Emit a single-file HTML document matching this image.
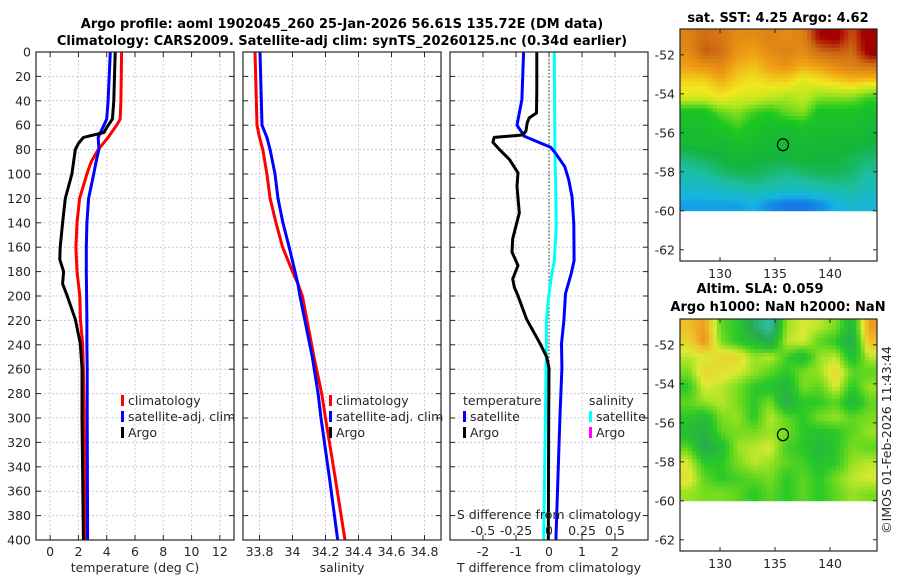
<!DOCTYPE html>
<html><head><meta charset="utf-8"><style>
html,body{margin:0;padding:0;background:#fff;}
svg text{font-family:"DejaVu Sans","Liberation Sans",sans-serif;fill:#262626;}
.t{font-weight:bold;font-size:13px;fill:#000;}
.tk{font-size:12.5px;}
</style></head><body>
<svg id="c" width="900" height="580" viewBox="0 0 900 580" xmlns="http://www.w3.org/2000/svg">
<text class="t" x="342" y="28" text-anchor="middle">Argo profile: aoml 1902045_260 25-Jan-2026 56.61S 135.72E (DM data)</text>
<text class="t" x="342" y="45" text-anchor="middle">Climatology: CARS2009. Satellite-adj clim: synTS_20260125.nc (0.34d earlier)</text>
<text class="t" x="778" y="22" text-anchor="middle">sat. SST: 4.25 Argo: 4.62</text>
<text class="t" x="760" y="293" text-anchor="middle">Altim. SLA: 0.059</text>
<text class="t" x="778" y="311" text-anchor="middle">Argo h1000: NaN h2000: NaN</text>
<text class="tk" transform="translate(891,440) rotate(-90)" text-anchor="middle">©IMOS 01-Feb-2026 11:43:44</text>
</svg>
<script>
// ---- profile data ----
const tDepth   = [0,40,55,60,70,80,90,100,120,140,160,180,200,220,240,260,300,400];
const tClim    = [5.05,5.0,4.95,4.7,4.1,3.4,2.9,2.6,2.08,1.9,1.82,1.9,2.1,2.15,2.3,2.35,2.4,2.5];
const tSat     = [4.25,4.1,4.0,3.8,3.4,3.45,3.25,3.08,2.72,2.6,2.56,2.56,2.58,2.6,2.6,2.62,2.62,2.65];
const argoDepth= [0,40,55,62,66,70,75,80,100,120,140,160,170,180,190,199,219,239,259,300,400];
const tArgo    = [4.6,4.5,4.4,4.0,3.8,2.35,2.0,1.78,1.54,1.07,0.88,0.71,0.68,0.95,0.88,1.18,1.78,2.13,2.25,2.25,2.35];
const sDepth   = [0,60,70,80,100,120,140,160,180,190,200,250,280,300,350,400];
const sClim    = [33.773,33.785,33.8,33.82,33.845,33.864,33.9,33.94,34.0,34.033,34.06,34.13,34.177,34.2,34.26,34.318];
const sSat     = [33.803,33.815,33.845,33.864,33.894,33.912,33.942,33.98,34.015,34.033,34.045,34.12,34.155,34.173,34.225,34.274];
const dDepth   = [0,39,50,60,69,78,83,94,105,119,141,171,182,198,220,239,259,300,400];
const dTSat    = [-0.77,-0.82,-0.9,-0.97,-0.75,0.05,0.2,0.48,0.6,0.7,0.75,0.76,0.67,0.5,0.45,0.38,0.39,0.33,0.21];
const adDepth  = [0,31,50,54,58,65,68,70,74,80,88,99,110,132,153,164,175,186,193,199,219,239,250,259,300,400];
const dTArgo   = [-0.37,-0.37,-0.38,-0.6,-0.66,-0.7,-0.8,-1.66,-1.7,-1.5,-1.2,-0.94,-0.97,-0.9,-1.1,-1.12,-0.94,-1.1,-1.05,-0.95,-0.68,-0.27,-0.07,0.0,-0.01,-0.02];
const csDepth  = [0,78,141,171,186,203,220,239,400];
const dSSat    = [0.04,0.045,0.055,0.04,0.015,-0.005,-0.02,-0.02,-0.04];
const tTicks   = [0,2,4,6,8,10,12];
const sTicks   = [33.8,34,34.2,34.4,34.6,34.8];
const dTicks   = [-2,-1,0,1,2];
const dsTicks  = ["-0.5","-0.25","0","0.25","0.5"];
const depthTicks=[0,20,40,60,80,100,120,140,160,180,200,220,240,260,280,300,320,340,360,380,400];
// ---- map data ----
const latTicks = [-52,-54,-56,-58,-60,-62];
const lonTicks = [130,135,140];
const sstGrid = [
[5.6,5.8,5.7,5.5,5.5,5.6,5.5,5.6,6.3,6.4,5.9,6.5],
[5.5,5.9,5.8,5.4,5.3,5.5,5.6,5.5,5.8,5.9,5.8,6.4],
[5.3,5.4,5.5,5.2,5.1,5.3,5.4,5.2,5.3,5.5,5.6,5.7],
[5.0,5.0,5.2,5.0,4.9,5.0,5.0,4.8,4.9,5.0,5.1,5.0],
[4.8,4.8,4.9,4.8,4.8,4.7,4.6,4.7,4.5,4.5,4.5,4.3],
[4.1,4.1,4.4,4.5,4.3,4.2,4.4,4.5,4.1,4.1,4.1,4.0],
[4.0,4.0,4.1,4.3,4.1,4.0,4.0,4.1,4.0,4.0,4.0,3.9],
[3.9,4.0,3.9,4.0,4.0,3.9,3.9,3.9,3.9,3.9,3.9,3.8],
[3.6,3.7,3.8,3.9,3.8,3.8,3.8,3.9,3.8,3.8,3.7,3.6],
[3.3,3.4,3.6,3.7,3.7,3.6,3.5,3.6,3.7,3.7,3.6,3.4],
[3.1,3.1,3.2,3.3,3.4,3.3,3.2,3.2,3.3,3.4,3.4,3.2],
[2.8,2.8,2.8,2.8,2.9,2.7,2.6,2.6,2.7,2.9,3.1,3.0]];
const slaGrid = [
[0.10,0.12,0.02,0.00,-0.06,-0.10,0.04,0.06,0.05,0.03,-0.03,0.12],
[0.08,0.13,0.03,0.00,-0.02,-0.05,0.05,0.06,0.02,0.00,-0.05,0.10],
[0.05,0.06,0.08,0.08,0.04,0.05,0.01,-0.02,0.04,0.05,-0.02,0.05],
[0.03,0.08,0.07,0.06,0.04,0.02,0.00,0.03,0.04,0.08,0.02,0.02],
[0.00,0.06,0.05,0.03,0.00,-0.01,-0.03,0.03,0.02,0.06,0.00,0.04],
[0.02,0.04,0.05,0.03,0.00,0.03,-0.04,0.00,0.00,0.02,-0.03,0.02],
[0.00,-0.02,0.03,0.04,0.00,0.05,0.02,0.00,0.03,0.04,0.02,0.03],
[-0.02,-0.04,0.02,0.03,0.03,0.04,0.03,0.00,-0.01,0.00,0.02,0.04],
[0.02,-0.05,-0.02,0.04,0.05,0.06,0.01,0.00,-0.03,0.00,0.03,0.02],
[0.06,0.00,0.00,0.03,0.05,0.04,0.02,0.01,-0.01,0.00,0.04,0.05],
[0.07,0.02,0.00,0.01,0.02,0.03,0.00,0.02,0.00,0.03,0.05,0.06],
[0.04,0.03,0.03,0.02,0.00,0.02,0.00,0.02,0.00,0.02,0.04,0.03]];
const argoPos = [135.72,-56.61];

const NS="http://www.w3.org/2000/svg";
const svg=document.getElementById('c');
function mk(tag,attrs,parent){const e=document.createElementNS(NS,tag);for(const k in attrs)e.setAttribute(k,attrs[k]);(parent||svg).appendChild(e);return e;}
function lin(d0,d1,r0,r1){return v=>r0+(v-d0)*(r1-r0)/(d1-d0);}

const Y0=52,Y1=540;
const yD=lin(0,400,Y0,Y1);
function panel(name,x0,x1,dom,ticks,tickLabels,xTitle){
  const g=mk('g',{});
  
  
  const x=lin(dom[0],dom[1],x0,x1);
  depthTicks.forEach(d=>{const l=mk('line',{x1:x0,x2:x1,y1:yD(d),y2:yD(d),stroke:'#c4c8ec','stroke-width':1,'stroke-dasharray':'2,2'},g);
    
    mk('line',{x1:x0,x2:x0+5,y1:yD(d),y2:yD(d),stroke:'#262626'},g);
    mk('line',{x1:x1-5,x2:x1,y1:yD(d),y2:yD(d),stroke:'#262626'},g);});
  ticks.forEach((t,i)=>{const l=mk('line',{x1:x(t),x2:x(t),y1:Y0,y2:Y1,stroke:'#d8c8dc','stroke-width':1,'stroke-dasharray':'2,2'},g);
    
    mk('line',{x1:x(t),x2:x(t),y1:Y1,y2:Y1-5,stroke:'#262626'},g);
    mk('line',{x1:x(t),x2:x(t),y1:Y0,y2:Y0+5,stroke:'#262626'},g);
    const tx=mk('text',{x:x(t),y:556,'text-anchor':'middle',class:'tk'},g);tx.textContent=tickLabels[i];
    });
  const tt=mk('text',{x:(x0+x1)/2,y:572,'text-anchor':'middle',class:'tk'},g);tt.textContent=xTitle;
  
  return {g,x,x0,x1};
}
function frame(p){const r=mk('rect',{x:p.x0,y:Y0,width:p.x1-p.x0,height:Y1-Y0,fill:'none',stroke:'#262626','stroke-width':1.2},p.g);
  }
function line(p,xs,ds,color,name,xf){const pts=xs.map((v,i)=>(xf||p.x)(v).toFixed(1)+','+yD(ds[i]).toFixed(1)).join(' ');
  const l=mk('polyline',{points:pts,fill:'none',stroke:color,'stroke-width':3,'stroke-linejoin':'round'},p.g);
  }
function legend(p,items,x,y){items.forEach((it,i)=>{
  if(it[0]){const m=mk('rect',{x:x,y:y+i*16-10,width:3,height:11,fill:it[0]},p.g);
  }
  const t=mk('text',{x:x+(it[0]?7:0),y:y+i*16,class:'tk','font-size':'13'},p.g);t.textContent=it[1];
  });}

depthTicks.forEach(d=>{const t=mk('text',{x:31,y:yD(d)+4.5,'text-anchor':'end',class:'tk'});t.textContent=d;
  });

const p1=panel('temperature-panel',36,234,[-1,13],tTicks,tTicks.map(String),'temperature (deg C)');
line(p1,tClim,tDepth,'#ff0000','climatology-temp-line');
line(p1,tSat,tDepth,'#0000ff','satellite-temp-line');
line(p1,tArgo,argoDepth,'#000000','argo-temp-line');
frame(p1);
legend(p1,[['#ff0000','climatology'],['#0000ff','satellite-adj. clim'],['#000000','Argo']],121,405);

const p2=panel('salinity-panel',243,441,[33.7,34.9],sTicks,sTicks.map(String),'salinity');
line(p2,sClim,sDepth,'#ff0000','climatology-sal-line');
line(p2,sSat,sDepth,'#0000ff','satellite-sal-line');
frame(p2);
legend(p2,[['#ff0000','climatology'],['#0000ff','satellite-adj. clim'],['#000000','Argo']],329,405);

const p3=panel('difference-panel',450,648,[-3,3],dTicks,dTicks.map(String),'T difference from climatology');
const zl=mk('line',{x1:p3.x(0),x2:p3.x(0),y1:Y0,y2:Y1,stroke:'#4a5a2a','stroke-width':1.2,'stroke-dasharray':'1.5,2'},p3.g);

const xs=lin(-0.75,0.75,450,648);
line(p3,dSSat,csDepth,'#00ffff','satellite-sal-diff-line',xs);
line(p3,dTSat,dDepth,'#0000ff','satellite-temp-diff-line');
line(p3,dTArgo,adDepth,'#000000','argo-temp-diff-line');
frame(p3);
legend(p3,[[null,'temperature'],['#0000ff','satellite'],['#000000','Argo']],463,405);
legend(p3,[[null,'salinity'],['#00ffff','satellite'],['#ff00ff','Argo']],589,405);
const st=mk('text',{x:549,y:519,'text-anchor':'middle',class:'tk','font-size':'13'},p3.g);st.textContent='S difference from climatology';

dsTicks.forEach(s=>{const t=mk('text',{x:xs(parseFloat(s)),y:535,'text-anchor':'middle',class:'tk'},p3.g);t.textContent=s;
  });

// ---- maps ----
function rgb(c){return 'rgb('+c.join(',')+')';}
function ramp(stops,v){if(v<=stops[0][0])return rgb(stops[0][1]);for(let i=1;i<stops.length;i++){if(v<=stops[i][0]){const a=stops[i-1],b=stops[i],f=(v-a[0])/(b[0]-a[0]);
  return rgb(a[1].map((q,k)=>Math.round(q+(b[1][k]-q)*f)));}}return rgb(stops[stops.length-1][1]);}
const sstStops=[[2.5,[20,100,235]],[2.9,[20,180,225]],[3.4,[30,190,160]],[3.8,[20,180,60]],[4.2,[30,200,30]],[4.6,[170,230,30]],[4.9,[240,232,30]],[5.3,[240,160,20]],[5.8,[208,110,20]],[6.3,[165,0,0]]];
const slaStops=[[-0.1,[50,190,170]],[-0.05,[40,170,80]],[0.0,[40,200,40]],[0.03,[120,220,30]],[0.06,[220,235,50]],[0.1,[240,190,40]],[0.13,[235,140,30]]];
function sample(grid,r,c){ // bilinear interpolation at fractional cell-centre coords
  const nr=grid.length,nc=grid[0].length;
  r=Math.max(0,Math.min(nr-1,r));c=Math.max(0,Math.min(nc-1,c));
  const r0=Math.floor(r),c0=Math.floor(c),r1=Math.min(nr-1,r0+1),c1=Math.min(nc-1,c0+1),fr=r-r0,fc=c-c0;
  return grid[r0][c0]*(1-fr)*(1-fc)+grid[r0][c1]*(1-fr)*fc+grid[r1][c0]*fr*(1-fc)+grid[r1][c1]*fr*fc;}
function map(name,top,bottom,grid,stops){
  const g=mk('g',{});
  
  
  const L0=680,L1=877,lonX=lin(126.36,144.27,L0,L1),latY=lin(-52,-62,top+(bottom-top)*0.1114,top+(bottom-top)*0.9517);
  const nr=grid.length,nc=grid[0].length,latTop=-50.67,S=4;
  const dLat=(latTop+60)/(nr*S),dLon=(144.27-126.36)/(nc*S);
  for(let r=0;r<nr*S;r++)for(let c=0;c<nc*S;c++){
    const v=sample(grid,(r+0.5)/S-0.5,(c+0.5)/S-0.5);
    const x=lonX(126.36+c*dLon),y=latY(latTop-r*dLat);
    const cell=mk('rect',{x:x.toFixed(2),y:y.toFixed(2),width:(lonX(126.36+(c+1)*dLon)-x+0.4).toFixed(2),height:(latY(latTop-(r+1)*dLat)-y+0.4).toFixed(2),fill:ramp(stops,v)},g);
    
    
  }
  const b=mk('rect',{x:L0,y:top,width:L1-L0,height:bottom-top,fill:'none',stroke:'#262626','stroke-width':1.2},g);
  
  latTicks.forEach(l=>{mk('line',{x1:L0,x2:L0+4,y1:latY(l),y2:latY(l),stroke:'#262626'},g);mk('line',{x1:L1-4,x2:L1,y1:latY(l),y2:latY(l),stroke:'#262626'},g);
    const t=mk('text',{x:675,y:latY(l)+4.5,'text-anchor':'end',class:'tk'},g);t.textContent=l;
    });
  lonTicks.forEach(l=>{mk('line',{x1:lonX(l),x2:lonX(l),y1:bottom,y2:bottom-4,stroke:'#262626'},g);mk('line',{x1:lonX(l),x2:lonX(l),y1:top,y2:top+4,stroke:'#262626'},g);
    const t=mk('text',{x:lonX(l),y:bottom+17,'text-anchor':'middle',class:'tk'},g);t.textContent=l;
    });
  const c=mk('ellipse',{cx:lonX(argoPos[0]),cy:latY(argoPos[1]),rx:5.5,ry:6,fill:'none',stroke:'#000','stroke-width':1.2},g);
  
}
map('sst-map',29,261,sstGrid,sstStops);
map('sla-map',319,551,slaGrid,slaStops);
</script>
</body></html>
